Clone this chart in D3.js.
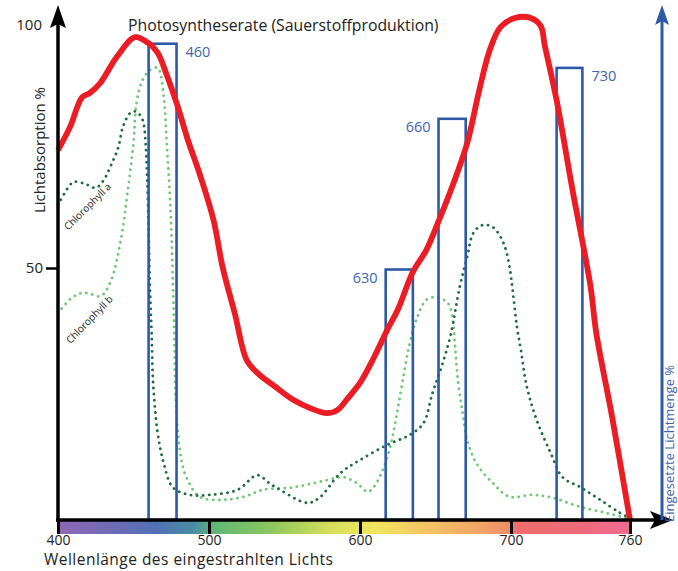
<!DOCTYPE html>
<html>
<head>
<meta charset="utf-8">
<script src="https://cdn.jsdelivr.net/npm/d3@7/dist/d3.min.js"></script>
<style>
  body { margin: 0; background: #fff; }
  text { font-family: "Open Sans", "Noto Sans", sans-serif; }
</style>
</head>
<body>
<script>
// wavelength (nm) and value (%) for each curve
var photoNm  = [400,408,416,421,428,439,451,460,466,472,479,486,494,503,509,517,525,532,544,556,567,578,585,592,600,609,618,625,635,644,651,662,671,679,686,693,702,710,715,717,723,731,740,743,751,760]
var photoVal = [73.4,78,83.9,84.7,86.7,91.9,95.8,94.6,92.7,88.3,82.3,75.4,68.5,59.5,50.2,41.1,31.7,29.2,26.4,23.8,22.2,21.2,21.8,24.2,27.2,32.1,37.7,41.7,49.2,53.6,58.5,66.9,74.8,85.3,93.3,97.8,99.6,99.6,98,94.2,83.3,65.5,46.6,37.1,20.4,0]

var chlANm  = [400,408,411,418,425,430,436,440,443,448,452,456,458,459,460,461,462,463,466,470,476,487,501,519,532,540,547,565,573,587,600,618,633,642,648,654,660,666,671,675,681,688,695,699,701,703,705,708,713,720,726,735,745,755,760]
var chlAVal = [62.5,66.5,67.1,66.7,65.9,67.3,71,74,78,80.8,81,79.4,74.8,68.1,58.1,45,37.1,27.2,17.3,11.3,6.5,5,5,6,8.9,7.3,6,3.4,4.4,9.3,11.9,14.9,16.9,19.2,25.2,30.4,36.7,46.2,52.2,56.9,58.5,58.1,55,50.2,45,38.3,33.7,26.4,19.8,13.3,8.5,6.5,4,1.4,0.4]

var chlBNm  = [400,408,415,420,428,432,436,439,443,446,450,452,456,461,466,470,472,474,475,476,477,478,481,485,494,509,523,536,556,578,589,598,605,609,615,620,624,628,633,638,644,651,658,661,663,665,668,671,677,688,699,711,721,735,748,756,760]
var chlBVal = [41,43.8,45,45,44.4,45.6,48.2,51.6,58.1,64.9,74.8,82.7,87.3,89.3,89.7,83.9,74.8,64.9,58.1,48.2,37.1,23.8,13.3,8.5,4.6,4,4.6,6,6.5,7.9,8.5,7.3,5.6,6.5,9.9,14.5,20.4,27.2,35.1,40.3,43.7,44.2,43.1,40.7,34.3,27.2,21.2,15.9,11.3,7.3,4.6,5,4.4,2.6,1.4,0.6,0]

// light bands used (nm range and light amount %)
var bandLabels = ['460','630','660','730']
var bandFrom   = [460,617,652,723]
var bandTo     = [478.5,635,670,736]
var bandVal    = [94.5,49.7,79.6,89.7]

var xTicks = [400,500,600,700,760]
var yTicks = [50,100]

// spectrum colours under the x axis
var specNm    = [400,440,465,490,505,540,580,610,640,680,699,701,730,760]
var specColor = ['#8f68b4','#6b6bb6','#5270b7','#4a8ea3','#62b874','#8cc65f','#d5df5c','#f3e65f','#f5c766','#f2a466','#f08d67','#ef6f6c','#ee6c78','#f06a92']

var width = 678
var height = 571

var x = d3.scaleLinear().domain([400,700,760]).range([58,511,630])
var y = d3.scaleLinear().domain([0,100]).range([520,16])

var svg = d3.select('body').append('svg')
    .attr('width', width)
    .attr('height', height)

// spectrum gradient
var grad = svg.append('defs').append('linearGradient')
    .attr('id','spec')
    .attr('gradientUnits','userSpaceOnUse')
    .attr('x1', x(400)).attr('x2', x(760))
    .attr('y1', 0).attr('y2', 0)
grad.selectAll('stop')
    .data(specNm)
    .enter()
    .append('stop')
    .attr('offset', (d) => (x(d) - x(400)) / (x(760) - x(400)))
    .attr('stop-color', (d,i) => specColor[i])

svg.append('rect')
    .attr('x', x(400)).attr('y', y(0) + 1)
    .attr('width', x(760) - x(400)).attr('height', 13)
    .attr('fill', 'url(#spec)')

// curves
var makeLine = (nm, val) => d3.line()
    .x((d,i) => x(nm[i]))
    .y((d,i) => y(val[i]))
    .curve(d3.curveCatmullRom)(nm)

svg.append('path')
    .attr('d', makeLine(chlBNm, chlBVal))
    .attr('fill','none')
    .attr('stroke','#72c777')
    .attr('stroke-width', 2.8)
    .attr('stroke-linecap','round')
    .attr('stroke-dasharray','0.1 6')

svg.append('path')
    .attr('d', makeLine(chlANm, chlAVal))
    .attr('fill','none')
    .attr('stroke','#1f6b3e')
    .attr('stroke-width', 2.8)
    .attr('stroke-linecap','round')
    .attr('stroke-dasharray','0.1 6')

// light bands
svg.selectAll('.band')
    .data(bandLabels)
    .enter()
    .append('rect')
    .attr('class','band')
    .attr('x', (d,i) => x(bandFrom[i]))
    .attr('y', (d,i) => y(bandVal[i]))
    .attr('width', (d,i) => x(bandTo[i]) - x(bandFrom[i]))
    .attr('height', (d,i) => y(0) - y(bandVal[i]))
    .attr('fill','none')
    .attr('stroke','#2d5aa8')
    .attr('stroke-width', 2.6)

// labels: 460 and 730 to the right, 630 and 660 to the left
svg.selectAll('.bandLabel')
    .data(bandLabels)
    .enter()
    .append('text')
    .attr('class','bandLabel')
    .attr('x', (d,i) => (i == 0 || i == 3) ? x(bandTo[i]) + 9 : x(bandFrom[i]) - 8)
    .attr('y', (d,i) => y(bandVal[i]) + 13)
    .attr('text-anchor', (d,i) => (i == 0 || i == 3) ? 'start' : 'end')
    .attr('font-size', 14.5)
    .attr('fill','#3e64b3')
    .text((d) => d)

// photosynthesis rate
svg.append('path')
    .attr('d', makeLine(photoNm, photoVal))
    .attr('fill','none')
    .attr('stroke','#ec1c24')
    .attr('stroke-width', 5.8)
    .attr('stroke-linejoin','round')

// x axis ticks
var xAxis = d3.axisBottom(x).tickValues(xTicks).tickSize(14).tickPadding(1)
var gx = svg.append('g')
    .attr('transform','translate(0,' + y(0) + ')')
    .call(xAxis)
gx.select('.domain').remove()
gx.selectAll('line').attr('stroke','#000').attr('stroke-width', 3)
gx.selectAll('text').attr('font-size', 14).attr('fill','#222')
    .attr('font-family','"Open Sans", sans-serif')

// y axis ticks (100 sits at the arrow, no tick line)
var yAxis = d3.axisLeft(y).tickValues(yTicks).tickSize(12).tickPadding(3)
var gy = svg.append('g')
    .attr('transform','translate(' + x(400) + ',0)')
    .call(yAxis)
gy.select('.domain').remove()
gy.selectAll('line').attr('stroke','#000').attr('stroke-width', 2.5)
    .filter((d) => d == 100).remove()
gy.selectAll('text').attr('font-size', 15).attr('fill','#222')
    .attr('font-family','"Open Sans", sans-serif')
gy.selectAll('text').filter((d) => d == 100).attr('dy','0.9em').attr('x', -16)

// axis lines with arrows
svg.append('line')
    .attr('x1', x(400)).attr('x2', x(400))
    .attr('y1', y(0) + 2).attr('y2', 20)
    .attr('stroke','#000').attr('stroke-width', 3.5)
svg.append('path')
    .attr('d','M' + x(400) + ',5 L' + (x(400) + 8) + ',28 L' + x(400) + ',24 L' + (x(400) - 8) + ',28 Z')
    .attr('fill','#000')

svg.append('line')
    .attr('x1', x(400) - 2).attr('x2', 660)
    .attr('y1', y(0)).attr('y2', y(0))
    .attr('stroke','#000').attr('stroke-width', 3.5)
svg.append('path')
    .attr('d','M673,' + y(0) + ' L650,' + (y(0) - 9) + ' L655,' + y(0) + ' L650,' + (y(0) + 9) + ' Z')
    .attr('fill','#000')

svg.append('line')
    .attr('x1', 662).attr('x2', 662)
    .attr('y1', y(0)).attr('y2', 20)
    .attr('stroke','#2d5aa8').attr('stroke-width', 3)
svg.append('path')
    .attr('d','M662,5 L669,25 L662,21 L655,25 Z')
    .attr('fill','#2d5aa8')

// titles and labels
svg.append('text')
    .attr('x', 128).attr('y', 31)
    .attr('font-size', 15.8).attr('fill','#222')
    .text('Photosyntheserate (Sauerstoffproduktion)')

svg.append('text')
    .attr('transform','translate(45,150) rotate(-90)')
    .attr('text-anchor','middle')
    .attr('font-size', 15).attr('fill','#222')
    .text('Lichtabsorption %')

svg.append('text')
    .attr('x', 44).attr('y', 565)
    .attr('font-size', 15.5).attr('fill','#222')
    .attr('textLength', 289)
    .text('Wellenlänge des eingestrahlten Lichts')

svg.append('text')
    .attr('transform','translate(674,522) rotate(-90)')
    .attr('text-anchor','start')
    .attr('font-size', 13).attr('fill','#3e64b3')
    .text('Eingesetzte Lichtmenge %')

svg.append('text')
    .attr('transform','translate(90,209) rotate(-45)')
    .attr('text-anchor','middle')
    .attr('font-size', 10).attr('fill','#222')
    .text('Chlorophyll a')

svg.append('text')
    .attr('transform','translate(92,322) rotate(-46)')
    .attr('text-anchor','middle')
    .attr('font-size', 10).attr('fill','#222')
    .text('Chlorophyll b')
</script>
</body>
</html>
